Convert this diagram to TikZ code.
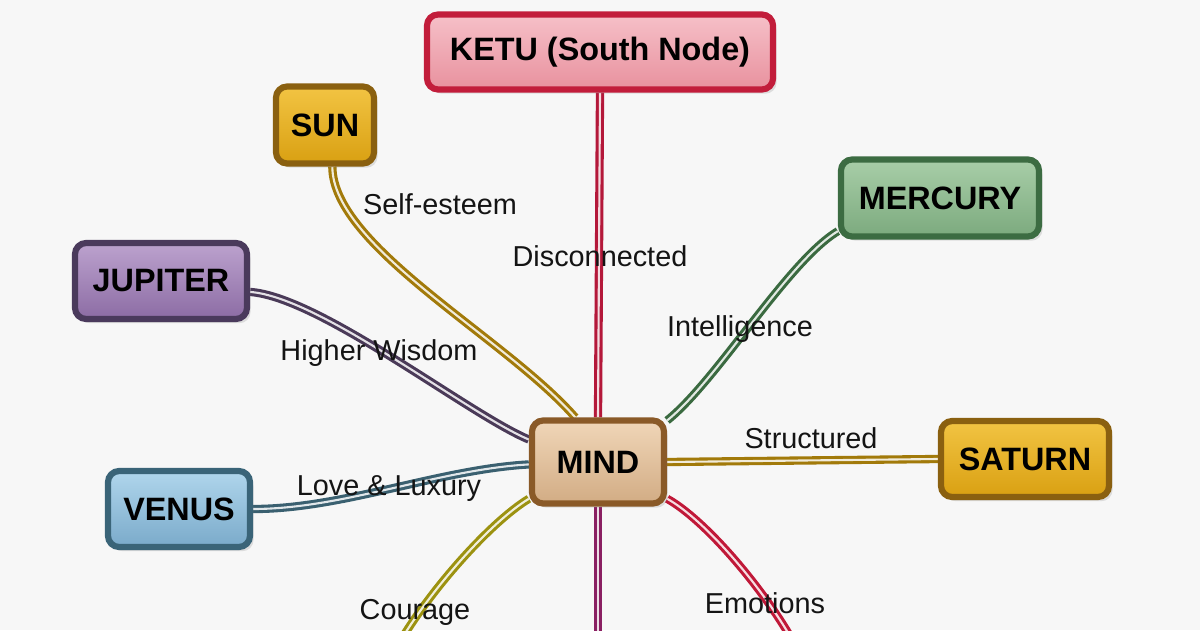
\documentclass[tikz,border=0pt]{standalone}
\usepackage{fontspec}
\setmainfont{Liberation Sans}
\usetikzlibrary{shadows}
\pgfdeclarelayer{bg}
\pgfdeclarelayer{links}
\pgfsetlayers{bg,links,main}

% box colours: border, top, bottom
\definecolor{ketuedge}{HTML}{C21D3B}
\definecolor{ketutop}{HTML}{F6C0C8}
\definecolor{ketubot}{HTML}{E8919E}
\definecolor{goldedge}{HTML}{8A6010}
\definecolor{goldtop}{HTML}{F2C443}
\definecolor{goldbot}{HTML}{D9A012}
\definecolor{jupedge}{HTML}{4A3A5C}
\definecolor{juptop}{HTML}{BCA2CE}
\definecolor{jupbot}{HTML}{8C6CA4}
\definecolor{venedge}{HTML}{3A6478}
\definecolor{ventop}{HTML}{B0D6EC}
\definecolor{venbot}{HTML}{7AAACA}
\definecolor{meredge}{HTML}{3C6C42}
\definecolor{mertop}{HTML}{A8CEA8}
\definecolor{merbot}{HTML}{7CAA7E}
\definecolor{mindedge}{HTML}{8A5A28}
\definecolor{mindtop}{HTML}{F0D6B8}
\definecolor{mindbot}{HTML}{D2AC84}
% connector colours
\definecolor{ketuline}{HTML}{B4183A}
\definecolor{moonline}{HTML}{8A2062}
\definecolor{sunline}{HTML}{A27A0A}
\definecolor{jupline}{HTML}{4A3A58}
\definecolor{venline}{HTML}{3A6070}
\definecolor{merline}{HTML}{3A6A40}
\definecolor{marsline}{HTML}{9C9210}
\definecolor{emoline}{HTML}{C01838}

\newcommand{\boxfont}{\fontsize{23}{26}\selectfont\bfseries}
\newcommand{\lblfont}{\fontsize{20.5}{24}\selectfont}

\tikzset{
  planet/.style n args={3}{draw=#1, top color=#2, bottom color=#3, line width=4.4pt,
    rounded corners=8pt, font=\boxfont, text=black,
    drop shadow={shadow xshift=2.5pt, shadow yshift=-3pt, opacity=0.22}},
  link/.style={draw=#1, double=white!85!#1, line width=2.2pt, double distance=1.5pt},
  lbl/.style={font=\lblfont, text=black!92}
}

\begin{document}
\begin{tikzpicture}[x=0.025cm, y=-0.025cm]
    \useasboundingbox (0,0) rectangle (1200,630);
    % Background
    \begin{pgfonlayer}{bg}
        \fill[black!3] (0,0) rectangle (1200,630);
    \end{pgfonlayer}
    % Boxes
    \node[planet={ketuedge}{ketutop}{ketubot}, minimum width=8.65cm, minimum height=1.875cm] (ketu) at (600,52) {KETU (South Node)};
    \node[planet={goldedge}{goldtop}{goldbot}, minimum width=2.45cm, minimum height=1.925cm] (sun) at (325,125) {SUN};
    \node[planet={jupedge}{juptop}{jupbot}, minimum width=4.3cm, minimum height=1.9cm] (jupiter) at (161,281) {JUPITER};
    \node[planet={venedge}{ventop}{venbot}, minimum width=3.55cm, minimum height=1.9cm] (venus) at (179,509) {VENUS};
    \node[planet={mindedge}{mindtop}{mindbot}, minimum width=3.3cm, minimum height=2.075cm] (mind) at (598,462) {MIND};
    \node[planet={meredge}{mertop}{merbot}, minimum width=4.95cm, minimum height=1.925cm] (mercury) at (940,198) {MERCURY};
    \node[planet={goldedge}{goldtop}{goldbot}, minimum width=4.2cm, minimum height=1.9cm] (saturn) at (1025,459) {SATURN};
    % Free ends below the picture
    \coordinate (moonend) at (598,645);
    \coordinate (marsend) at (398,645);
    \coordinate (emoend) at (795,645);
    % Connectors
    \begin{pgfonlayer}{links}
        \draw[link=ketuline] (ketu.south) -- (mind.north);
        \draw[link=moonline] (mind.south) -- (moonend);
        \draw[link=sunline] (sun.-80) .. controls +(0,80) and +(-70,-80) .. (mind.117);
        \draw[link=jupline] (jupiter.-7) .. controls +(70,5) and +(-60,-25) .. (mind.162);
        \draw[link=venline] (venus.east) .. controls +(90,0) and +(-90,5) .. (mind.182);
        \draw[link=merline] (mercury.198) .. controls +(-50,30) and +(50,-40) .. (mind.31);
        \draw[link=sunline] (mind.east) -- (saturn.west);
        \draw[link=marsline] (mind.208) .. controls +(-38,23) and +(32,-55) .. (marsend);
        \draw[link=emoline] (mind.-28) .. controls +(38,21) and +(-30,-55) .. (emoend);
    \end{pgfonlayer}
    % Labels
    \node[lbl] (selfesteem) at (440,204) {Self-esteem};
    \node[lbl] (disconnected) at (600,256) {Disconnected};
    \node[lbl] (intelligence) at (740,329) {Intelligence};
    \node[lbl] (wisdom) at (379,353) {Higher Wisdom};
    \node[lbl] (structured) at (811,438) {Structured};
    \node[lbl] (luxury) at (389,489) {Love \& Luxury};
    \node[lbl] (courage) at (415,612) {Courage};
    \node[lbl] (emotions) at (765,603) {Emotions};
\end{tikzpicture}
\end{document}
